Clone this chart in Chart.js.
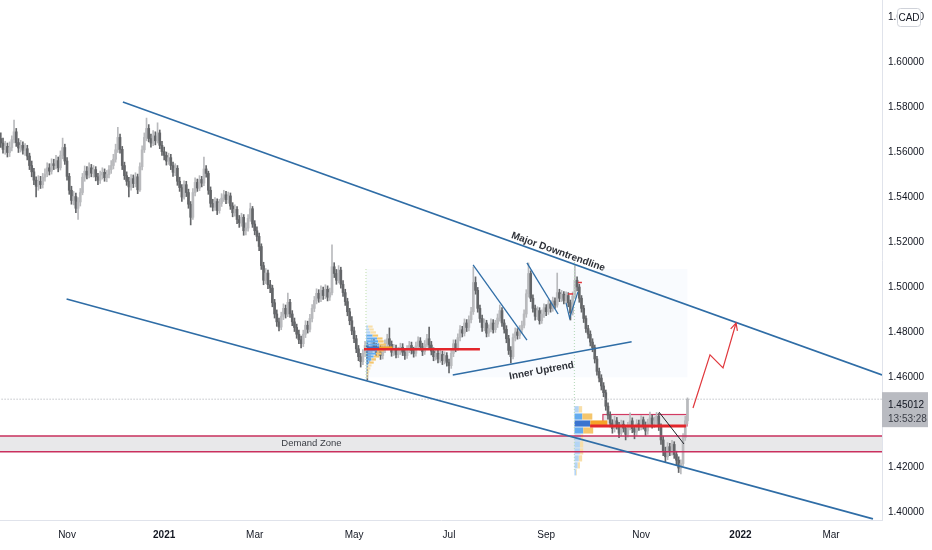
<!DOCTYPE html>
<html>
<head>
<meta charset="utf-8">
<script src="https://cdn.jsdelivr.net/npm/chart.js@4.4.1/dist/chart.umd.min.js"></script>
<style>
  html, body { margin: 0; padding: 0; background: #fff; }
</style>
</head>
<body>
<canvas id="price-chart" width="932" height="550"></canvas>
<script>
// daily EUR/CAD candles, bar index 0 = mid Sep 2020
const opens = [
  1.5660,1.5640,1.5612,1.5625,1.5598,1.5620,1.5655,1.5690,1.5642,1.5618,
  1.5630,1.5608,1.5615,1.5582,1.5540,1.5512,1.5475,1.5448,1.5470,1.5455,
  1.5488,1.5502,1.5530,1.5515,1.5548,1.5540,1.5562,1.5530,1.5585,1.5620,
  1.5560,1.5492,1.5430,1.5385,1.5402,1.5350,1.5378,1.5420,1.5488,1.5515,
  1.5498,1.5530,1.5506,1.5522,1.5490,1.5475,1.5498,1.5510,1.5486,1.5500,
  1.5522,1.5540,1.5568,1.5610,1.5665,1.5612,1.5540,1.5495,1.5470,1.5445,
  1.5482,1.5460,1.5490,1.5432,1.5535,1.5610,1.5665,1.5705,1.5660,1.5640,
  1.5672,1.5650,1.5685,1.5630,1.5602,1.5585,1.5560,1.5575,1.5540,1.5510,
  1.5528,1.5470,1.5442,1.5400,1.5455,1.5420,1.5368,1.5310,1.5420,1.5465,
  1.5440,1.5478,1.5462,1.5525,1.5505,1.5430,1.5372,1.5355,1.5380,1.5340,
  1.5372,1.5395,1.5410,1.5388,1.5405,1.5360,1.5330,1.5345,1.5300,1.5285,
  1.5310,1.5250,1.5262,1.5305,1.5348,1.5280,1.5250,1.5225,1.5180,1.5095,
  1.5030,1.5062,1.5010,1.4995,1.4930,1.4880,1.4845,1.4822,1.4870,1.4905,
  1.4880,1.4932,1.4880,1.4845,1.4820,1.4790,1.4765,1.4748,1.4790,1.4830,
  1.4812,1.4860,1.4905,1.4940,1.4972,1.4950,1.4985,1.4962,1.4990,1.4955,
  1.4975,1.5090,1.5060,1.5030,1.5075,1.5012,1.4975,1.4935,1.4890,1.4850,
  1.4805,1.4770,1.4725,1.4690,1.4668,1.4705,1.4740,1.4680,1.4718,1.4752,
  1.4735,1.4708,1.4730,1.4695,1.4722,1.4748,1.4770,1.4745,1.4710,1.4728,
  1.4700,1.4715,1.4732,1.4710,1.4695,1.4722,1.4740,1.4718,1.4705,1.4738,
  1.4760,1.4735,1.4712,1.4745,1.4770,1.4742,1.4715,1.4690,1.4705,1.4680,
  1.4700,1.4672,1.4695,1.4665,1.4650,1.4705,1.4748,1.4730,1.4775,1.4810,
  1.4795,1.4840,1.4820,1.4855,1.4890,1.5020,1.4985,1.4905,1.4860,1.4820,
  1.4840,1.4795,1.4815,1.4840,1.4810,1.4835,1.4862,1.4895,1.4840,1.4812,
  1.4770,1.4718,1.4690,1.4775,1.4800,1.4785,1.4810,1.4830,1.4880,1.4970,
  1.5060,1.4950,1.4905,1.4870,1.4895,1.4850,1.4880,1.4908,1.4890,1.4925,
  1.4905,1.4938,1.4920,1.4975,1.4950,1.4968,1.4940,1.4962,1.4930,1.4885,
  1.4960,1.5030,1.5000,1.4950,1.4905,1.4860,1.4815,1.4790,1.4755,1.4730,
  1.4680,1.4625,1.4595,1.4560,1.4530,1.4470,1.4430,1.4395,1.4370,1.4405,
  1.4385,1.4350,1.4390,1.4372,1.4345,1.4380,1.4405,1.4370,1.4355,1.4392,
  1.4380,1.4410,1.4385,1.4360,1.4395,1.4418,1.4390,1.4405,1.4425,1.4380,
  1.4320,1.4270,1.4245,1.4290,1.4268,1.4300,1.4255,1.4230,1.4195,1.4215,
  1.4330,1.4405
];
const closes = [
  1.5640,1.5612,1.5625,1.5598,1.5620,1.5655,1.5690,1.5642,1.5618,1.5630,
  1.5608,1.5615,1.5582,1.5540,1.5512,1.5475,1.5448,1.5470,1.5455,1.5488,
  1.5502,1.5530,1.5515,1.5548,1.5540,1.5562,1.5530,1.5585,1.5620,1.5560,
  1.5492,1.5430,1.5385,1.5402,1.5350,1.5378,1.5420,1.5488,1.5515,1.5498,
  1.5530,1.5506,1.5522,1.5490,1.5475,1.5498,1.5510,1.5486,1.5500,1.5522,
  1.5540,1.5568,1.5610,1.5665,1.5612,1.5540,1.5495,1.5470,1.5445,1.5482,
  1.5460,1.5490,1.5432,1.5535,1.5610,1.5665,1.5705,1.5660,1.5640,1.5672,
  1.5650,1.5685,1.5630,1.5602,1.5585,1.5560,1.5575,1.5540,1.5510,1.5528,
  1.5470,1.5442,1.5400,1.5455,1.5420,1.5368,1.5310,1.5420,1.5465,1.5440,
  1.5478,1.5462,1.5525,1.5505,1.5430,1.5372,1.5355,1.5380,1.5340,1.5372,
  1.5395,1.5410,1.5388,1.5405,1.5360,1.5330,1.5345,1.5300,1.5285,1.5310,
  1.5250,1.5262,1.5305,1.5348,1.5280,1.5250,1.5225,1.5180,1.5095,1.5030,
  1.5062,1.5010,1.4995,1.4930,1.4880,1.4845,1.4822,1.4870,1.4905,1.4880,
  1.4932,1.4880,1.4845,1.4820,1.4790,1.4765,1.4748,1.4790,1.4830,1.4812,
  1.4860,1.4905,1.4940,1.4972,1.4950,1.4985,1.4962,1.4990,1.4955,1.4975,
  1.5090,1.5060,1.5030,1.5075,1.5012,1.4975,1.4935,1.4890,1.4850,1.4805,
  1.4770,1.4725,1.4690,1.4668,1.4705,1.4740,1.4680,1.4718,1.4752,1.4735,
  1.4708,1.4730,1.4695,1.4722,1.4748,1.4770,1.4745,1.4710,1.4728,1.4700,
  1.4715,1.4732,1.4710,1.4695,1.4722,1.4740,1.4718,1.4705,1.4738,1.4760,
  1.4735,1.4712,1.4745,1.4770,1.4742,1.4715,1.4690,1.4705,1.4680,1.4700,
  1.4672,1.4695,1.4665,1.4650,1.4705,1.4748,1.4730,1.4775,1.4810,1.4795,
  1.4840,1.4820,1.4855,1.4890,1.5020,1.4985,1.4905,1.4860,1.4820,1.4840,
  1.4795,1.4815,1.4840,1.4810,1.4835,1.4862,1.4895,1.4840,1.4812,1.4770,
  1.4718,1.4690,1.4775,1.4800,1.4785,1.4810,1.4830,1.4880,1.4970,1.5060,
  1.4950,1.4905,1.4870,1.4895,1.4850,1.4880,1.4908,1.4890,1.4925,1.4905,
  1.4938,1.4920,1.4975,1.4950,1.4968,1.4940,1.4962,1.4930,1.4885,1.4960,
  1.5030,1.5000,1.4950,1.4905,1.4860,1.4815,1.4790,1.4755,1.4730,1.4680,
  1.4625,1.4595,1.4560,1.4530,1.4470,1.4430,1.4395,1.4370,1.4405,1.4385,
  1.4350,1.4390,1.4372,1.4345,1.4380,1.4405,1.4370,1.4355,1.4392,1.4380,
  1.4410,1.4385,1.4360,1.4395,1.4418,1.4390,1.4405,1.4425,1.4380,1.4320,
  1.4270,1.4245,1.4290,1.4268,1.4300,1.4255,1.4230,1.4195,1.4215,1.4330,
  1.4405,1.4501
];
const highs = [
  1.5685,1.5662,1.5648,1.5640,1.5645,1.5672,1.5742,1.5705,1.5660,1.5652,
  1.5645,1.5638,1.5630,1.5595,1.5560,1.5528,1.5490,1.5495,1.5492,1.5505,
  1.5525,1.5552,1.5548,1.5570,1.5568,1.5585,1.5578,1.5605,1.5662,1.5635,
  1.5575,1.5505,1.5448,1.5425,1.5418,1.5398,1.5438,1.5505,1.5538,1.5535,
  1.5552,1.5545,1.5540,1.5535,1.5505,1.5515,1.5530,1.5525,1.5518,1.5540,
  1.5562,1.5590,1.5635,1.5710,1.5680,1.5625,1.5555,1.5512,1.5488,1.5500,
  1.5498,1.5508,1.5502,1.5552,1.5628,1.5685,1.5751,1.5722,1.5680,1.5695,
  1.5690,1.5730,1.5698,1.5648,1.5622,1.5600,1.5595,1.5590,1.5555,1.5548,
  1.5540,1.5488,1.5455,1.5472,1.5470,1.5435,1.5380,1.5438,1.5485,1.5480,
  1.5495,1.5492,1.5578,1.5540,1.5515,1.5445,1.5390,1.5398,1.5392,1.5390,
  1.5415,1.5430,1.5425,1.5422,1.5418,1.5375,1.5365,1.5358,1.5318,1.5328,
  1.5322,1.5285,1.5322,1.5373,1.5358,1.5295,1.5268,1.5240,1.5192,1.5110,
  1.5082,1.5075,1.5030,1.5008,1.4945,1.4898,1.4862,1.4888,1.4925,1.4920,
  1.4973,1.4945,1.4895,1.4862,1.4835,1.4808,1.4782,1.4808,1.4850,1.4848,
  1.4878,1.4922,1.4958,1.4992,1.4988,1.5005,1.5000,1.5010,1.5005,1.4995,
  1.5187,1.5108,1.5078,1.5095,1.5088,1.5028,1.4990,1.4950,1.4905,1.4868,
  1.4822,1.4785,1.4740,1.4705,1.4722,1.4758,1.4752,1.4735,1.4770,1.4768,
  1.4750,1.4748,1.4742,1.4740,1.4765,1.4790,1.4818,1.4760,1.4745,1.4742,
  1.4732,1.4750,1.4748,1.4725,1.4740,1.4758,1.4755,1.4732,1.4755,1.4778,
  1.4775,1.4750,1.4762,1.4790,1.4822,1.4758,1.4730,1.4722,1.4718,1.4718,
  1.4715,1.4712,1.4708,1.4680,1.4722,1.4765,1.4765,1.4792,1.4828,1.4825,
  1.4858,1.4855,1.4872,1.4910,1.5089,1.5045,1.4998,1.4920,1.4875,1.4858,
  1.4852,1.4832,1.4858,1.4855,1.4852,1.4880,1.4920,1.4908,1.4855,1.4828,
  1.4785,1.4735,1.4792,1.4818,1.4815,1.4828,1.4848,1.4898,1.4988,1.5107,
  1.5072,1.4965,1.4920,1.4912,1.4908,1.4898,1.4925,1.4922,1.4942,1.4938,
  1.4955,1.4952,1.5062,1.4990,1.4985,1.4980,1.4978,1.4975,1.4942,1.4978,
  1.5098,1.5045,1.5012,1.4962,1.4918,1.4872,1.4830,1.4805,1.4770,1.4742,
  1.4692,1.4640,1.4610,1.4575,1.4542,1.4485,1.4445,1.4410,1.4425,1.4420,
  1.4398,1.4408,1.4405,1.4385,1.4398,1.4440,1.4418,1.4385,1.4410,1.4408,
  1.4428,1.4422,1.4400,1.4412,1.4444,1.4430,1.4422,1.4442,1.4438,1.4392,
  1.4335,1.4288,1.4308,1.4305,1.4318,1.4312,1.4270,1.4245,1.4232,1.4348,
  1.4425,1.4507
];
const lows = [
  1.5620,1.5595,1.5590,1.5578,1.5580,1.5605,1.5640,1.5625,1.5598,1.5600,
  1.5590,1.5585,1.5565,1.5522,1.5490,1.5455,1.5400,1.5430,1.5438,1.5440,
  1.5470,1.5490,1.5498,1.5502,1.5522,1.5525,1.5512,1.5520,1.5570,1.5545,
  1.5475,1.5412,1.5368,1.5365,1.5330,1.5300,1.5360,1.5410,1.5470,1.5480,
  1.5485,1.5490,1.5488,1.5472,1.5455,1.5460,1.5480,1.5470,1.5468,1.5485,
  1.5505,1.5525,1.5555,1.5598,1.5595,1.5522,1.5478,1.5452,1.5400,1.5430,
  1.5442,1.5445,1.5415,1.5425,1.5520,1.5598,1.5650,1.5645,1.5622,1.5628,
  1.5632,1.5640,1.5615,1.5585,1.5565,1.5542,1.5545,1.5522,1.5492,1.5495,
  1.5452,1.5425,1.5380,1.5390,1.5402,1.5350,1.5276,1.5300,1.5405,1.5425,
  1.5428,1.5445,1.5450,1.5488,1.5412,1.5355,1.5338,1.5340,1.5322,1.5328,
  1.5358,1.5380,1.5370,1.5372,1.5345,1.5312,1.5315,1.5282,1.5265,1.5270,
  1.5230,1.5232,1.5248,1.5292,1.5265,1.5232,1.5205,1.5162,1.5078,1.5010,
  1.5015,1.4992,1.4975,1.4912,1.4862,1.4825,1.4805,1.4810,1.4855,1.4862,
  1.4868,1.4865,1.4828,1.4802,1.4772,1.4748,1.4729,1.4735,1.4775,1.4795,
  1.4800,1.4845,1.4890,1.4925,1.4932,1.4935,1.4945,1.4948,1.4938,1.4940,
  1.4965,1.5042,1.5012,1.5018,1.4995,1.4958,1.4918,1.4872,1.4832,1.4788,
  1.4752,1.4708,1.4672,1.4644,1.4655,1.4690,1.4587,1.4665,1.4702,1.4718,
  1.4690,1.4692,1.4678,1.4680,1.4708,1.4732,1.4728,1.4692,1.4695,1.4685,
  1.4686,1.4700,1.4695,1.4678,1.4682,1.4708,1.4702,1.4688,1.4692,1.4725,
  1.4720,1.4695,1.4700,1.4732,1.4725,1.4698,1.4672,1.4675,1.4662,1.4665,
  1.4655,1.4658,1.4648,1.4618,1.4638,1.4690,1.4712,1.4718,1.4760,1.4778,
  1.4782,1.4802,1.4805,1.4840,1.4878,1.4968,1.4888,1.4842,1.4802,1.4805,
  1.4778,1.4780,1.4800,1.4795,1.4798,1.4820,1.4848,1.4825,1.4795,1.4752,
  1.4700,1.4662,1.4680,1.4760,1.4768,1.4770,1.4795,1.4818,1.4865,1.4955,
  1.4935,1.4888,1.4852,1.4855,1.4835,1.4838,1.4865,1.4872,1.4878,1.4888,
  1.4892,1.4905,1.4910,1.4935,1.4935,1.4925,1.4928,1.4912,1.4853,1.4875,
  1.4948,1.4982,1.4932,1.4888,1.4842,1.4798,1.4772,1.4738,1.4712,1.4662,
  1.4608,1.4578,1.4542,1.4512,1.4452,1.4412,1.4378,1.4350,1.4355,1.4368,
  1.4330,1.4338,1.4355,1.4320,1.4332,1.4365,1.4352,1.4325,1.4340,1.4362,
  1.4365,1.4368,1.4340,1.4345,1.4380,1.4372,1.4375,1.4390,1.4362,1.4300,
  1.4250,1.4222,1.4232,1.4250,1.4252,1.4238,1.4210,1.4175,1.4169,1.4205,
  1.4318,1.4392
];

// axis ticks: bar index of month starts and labels, price ticks
const monthIdx = [30, 74, 115, 160, 203, 247, 290, 335, 376];
const monthLabels = ['Nov', '2021', 'Mar', 'May', 'Jul', 'Sep', 'Nov', '2022', 'Mar'];
const priceTicks = [1.40, 1.42, 1.44, 1.46, 1.48, 1.50, 1.52, 1.54, 1.56, 1.58, 1.60, 1.62];
const lastPrice = 1.45012;
const countdown = '13:53:28';

// drawings: [barIndex, price] points
const majorDowntrend = [[55.3, 1.5822], [399.1, 1.4609]];
const lowerChannel = [[29.8, 1.4947], [395.0, 1.3969]];
const innerUptrend = [[204.7, 1.4609], [285.7, 1.4757]];
const swingLine1 = [[213.9, 1.5098], [238.3, 1.4764]];
const swingLine2 = [[238.3, 1.5107], [252.4, 1.4880]];
const swingV = [[256.0, 1.4929], [257.6, 1.4862], [261.4, 1.4978]];
const breakLine = [[298.1, 1.4444], [309.4, 1.4302]];
const projection = [[313.5, 1.4462], [321.2, 1.4698], [327.1, 1.4640], [333.0, 1.4840]];
const redTick1 = [[256.9, 1.4969], [259.2, 1.4969]];
const redTick2 = [[261.4, 1.5020], [263.2, 1.5020]];
const pocLine1 = [[164.5, 1.4723], [217.0, 1.4723]];
const pocLine2 = [[266.9, 1.4382], [310.3, 1.4382]];
const demandZone = [1.4267, 1.4338];
const rangeBox = { from: 272.7, to: 310.8, low: 1.4382, high: 1.4433 };

// fixed range volume profiles
const vp1Start = 165.4;
const vp1End = 311;
const vp1Prices = [1.4824, 1.4811, 1.4798, 1.4784, 1.4771, 1.4758, 1.4744, 1.4731, 1.4718,
  1.4704, 1.4691, 1.4678, 1.4664, 1.4651, 1.4638, 1.4624, 1.4611, 1.4598];
const vp1Up = [1, 1.5, 2, 3, 5, 5.5, 6, 6, 5, 4.5, 3.5, 2.5, 1.5, 1, 0.5, 0.5, 0.3, 0.3];
const vp1Down = [2, 2, 2.5, 2.5, 2.5, 2.5, 3, 6, 3, 2.5, 2.5, 2, 2, 1.5, 1.5, 1, 0.8, 0.5];
const vp1Poc = 1.4731;
const vp1Va = [1.4664, 1.4784];
const vp1Top = 1.5080;

const vp2Start = 259.8;
const vp2Prices = [1.4456, 1.4424, 1.4393, 1.4362, 1.4331, 1.4300, 1.4269, 1.4238, 1.4207, 1.4176];
const vp2Up = [2, 3.6, 7.2, 4, 3, 2.5, 2.5, 2, 1.5, 0.8];
const vp2Down = [1.5, 4.5, 7.7, 4.5, 1, 1.5, 1.5, 1.5, 1, 0.3];
const vp2Poc = 1.4393;
const vp2Va = [1.4362, 1.4424];
const vp2Top = 1.5111;

const UP = '#b9babd';
const DOWN = '#646669';
const TREND = '#2f6da6';
const FONT = "'Liberation Sans', Arial, sans-serif";

const pts = (arr) => arr.map(([x, y]) => ({ x, y }));

const line = (data, color, width, extra) => Object.assign({
  type: 'line',
  data: pts(data),
  borderColor: color,
  borderWidth: width,
  pointRadius: 0,
  tension: 0,
  fill: false,
}, extra || {});

const candleColors = closes.map((c, i) => (c >= opens[i] ? UP : DOWN));

const overlayPlugin = {
  id: 'overlay',
  beforeDatasetsDraw(chart) {
    const { ctx, chartArea, scales: { x, y } } = chart;
    ctx.save();
    // volume profile range background
    ctx.fillStyle = 'rgba(228, 236, 250, 0.22)';
    ctx.fillRect(x.getPixelForValue(vp1Start), y.getPixelForValue(vp1Top),
      x.getPixelForValue(vp1End) - x.getPixelForValue(vp1Start),
      y.getPixelForValue(vp1Prices[vp1Prices.length - 1]) - y.getPixelForValue(vp1Top));
    // demand zone
    ctx.fillStyle = 'rgba(200, 200, 204, 0.42)';
    const zt = y.getPixelForValue(demandZone[1]);
    const zb = y.getPixelForValue(demandZone[0]);
    ctx.fillRect(chartArea.left, zt, chartArea.right - chartArea.left, zb - zt);
    // november range box
    const bl = x.getPixelForValue(rangeBox.from);
    const br = x.getPixelForValue(rangeBox.to);
    const bt = y.getPixelForValue(rangeBox.high);
    const bb = y.getPixelForValue(rangeBox.low);
    ctx.fillRect(bl, bt, br - bl, bb - bt);
    ctx.strokeStyle = '#d23a62';
    ctx.lineWidth = 1.2;
    ctx.strokeRect(bl, bt, br - bl, bb - bt);
    ctx.restore();
  },
  afterDatasetDraw(chart, args) {
    if (args.meta.label !== 'bodies') return;
    const { ctx, scales: { x, y } } = chart;
    const drawProfile = (start, prices, up, down, poc, va) => {
      const x0 = x.getPixelForValue(start);
      prices.forEach((p, i) => {
        const next = prices[i + 1] !== undefined ? prices[i + 1] : p - (prices[i - 1] - p);
        const h = Math.abs(y.getPixelForValue(next) - y.getPixelForValue(p));
        const yc = y.getPixelForValue(p);
        const inVa = p >= va[0] - 1e-6 && p <= va[1] + 1e-6;
        const isPoc = Math.abs(p - poc) < 1e-6;
        const wu = x.getPixelForValue(start + up[i]) - x0;
        const wd = x.getPixelForValue(start + up[i] + down[i]) - x0 - wu;
        ctx.fillStyle = isPoc ? '#3a74cf' : inVa ? '#63abef' : '#b3d4f4';
        ctx.fillRect(x0, yc - h / 2 + 0.4, wu, h - 0.8);
        ctx.fillStyle = isPoc ? '#f6a228' : inVa ? '#f5c66c' : '#f8dfa9';
        ctx.fillRect(x0 + wu, yc - h / 2 + 0.4, wd, h - 0.8);
      });
    };
    ctx.save();
    drawProfile(vp1Start, vp1Prices, vp1Up, vp1Down, vp1Poc, vp1Va);
    drawProfile(vp2Start, vp2Prices, vp2Up, vp2Down, vp2Poc, vp2Va);
    ctx.restore();
  },
  afterDatasetsDraw(chart) {
    const { ctx, scales: { x, y } } = chart;
    const P = (pt) => [x.getPixelForValue(pt[0]), y.getPixelForValue(pt[1])];
    ctx.save();
    // arrow head on projection
    const [ex, ey] = P(projection[projection.length - 1]);
    const [sx, sy] = P(projection[projection.length - 2]);
    const ang = Math.atan2(ey - sy, ex - sx);
    ctx.strokeStyle = '#e0383d';
    ctx.lineWidth = 1.2;
    ctx.beginPath();
    ctx.moveTo(ex - 8 * Math.cos(ang - 0.45), ey - 8 * Math.sin(ang - 0.45));
    ctx.lineTo(ex, ey);
    ctx.lineTo(ex - 8 * Math.cos(ang + 0.45), ey - 8 * Math.sin(ang + 0.45));
    ctx.stroke();

    ctx.fillStyle = '#2e3138';
    ctx.textAlign = 'center';
    ctx.textBaseline = 'middle';
    const rotated = (text, at, ln, font) => {
      const [a1x, a1y] = P(ln[0]);
      const [a2x, a2y] = P(ln[1]);
      const [tx, ty] = P(at);
      ctx.save();
      ctx.translate(tx, ty);
      ctx.rotate(Math.atan2(a2y - a1y, a2x - a1x));
      ctx.font = font;
      ctx.fillText(text, 0, 0);
      ctx.restore();
    };
    rotated('Major Downtrendline', [252.4, 1.5156], majorDowntrend, `bold 10px ${FONT}`);
    rotated('Inner Uptrend', [244.9, 1.4627], innerUptrend, `bold 10px ${FONT}`);
    ctx.font = `9.5px ${FONT}`;
    ctx.fillStyle = '#3a3d44';
    const [dx, dy] = P([140.7, (demandZone[0] + demandZone[1]) / 2]);
    ctx.fillText('Demand Zone', dx, dy);
    ctx.restore();
  },
  afterDraw(chart) {
    const { ctx, chartArea, scales: { y } } = chart;
    ctx.save();
    // last price label
    const yp = y.getPixelForValue(lastPrice);
    ctx.fillStyle = '#b9bbc1';
    ctx.fillRect(chartArea.right, yp - 7, 46, 35);
    ctx.fillStyle = '#131722';
    ctx.font = `10px ${FONT}`;
    ctx.textAlign = 'left';
    ctx.textBaseline = 'middle';
    ctx.fillText(lastPrice.toFixed(5), chartArea.right + 6, yp + 6);
    ctx.fillStyle = '#3d4049';
    ctx.fillText(countdown, chartArea.right + 6, yp + 20);
    // currency badge
    const bx = chartArea.right + 15;
    const by = 8;
    ctx.fillStyle = '#ffffff';
    ctx.strokeStyle = '#cfd2d9';
    ctx.lineWidth = 1;
    ctx.beginPath();
    ctx.roundRect(bx + 0.5, by + 0.5, 23, 18, 3);
    ctx.fill();
    ctx.stroke();
    ctx.fillStyle = '#131722';
    ctx.textAlign = 'center';
    ctx.fillText('CAD', bx + 12, by + 10);
    ctx.restore();
  },
};

const datasets = [
  line(projection, '#e0383d', 1.2),
  line(breakLine, '#1f2228', 1),
  line(redTick1, '#e0383d', 1.5),
  line(redTick2, '#e0383d', 1.5),
  line(swingV, TREND, 1.2),
  line(swingLine1, TREND, 1.3),
  line(swingLine2, TREND, 1.3),
  line(innerUptrend, TREND, 1.5),
  line(majorDowntrend, TREND, 1.6),
  line(lowerChannel, TREND, 1.6),
  line(pocLine1, '#e3262c', 2.5),
  line(pocLine2, '#e3262c', 3),
  line([[-1, demandZone[1]], [400, demandZone[1]]], '#c9305e', 1.5),
  line([[-1, demandZone[0]], [400, demandZone[0]]], '#c9305e', 1.5),
  line([[-1, lastPrice], [400, lastPrice]], '#a3a6ae', 1, { borderDash: [1, 2] }),
  line([[vp1Start, vp1Top], [vp1Start, 1.4590]], '#c9e3b8', 1.2, { borderDash: [1, 2] }),
  line([[vp2Start, vp2Top], [vp2Start, 1.4178]], '#bcdcc0', 1.2, { borderDash: [1, 2] }),
  {
    type: 'bar',
    label: 'bodies',
    data: closes.map((c, i) => ({ x: i, y: [opens[i], c] })),
    backgroundColor: candleColors,
    barThickness: 2,
    minBarLength: 1,
    grouped: false,
  },
  {
    type: 'bar',
    label: 'wicks',
    data: closes.map((c, i) => ({
      x: i,
      y: [Math.min(lows[i], opens[i], c), Math.max(highs[i], opens[i], c)],
    })),
    backgroundColor: candleColors,
    barThickness: 1,
    grouped: false,
  },
];

const renderChart = () => {
  const chartEl = document.getElementById('price-chart');
  Chart.defaults.font.family = FONT;

  return new Chart(chartEl, {
    type: 'bar',
    data: { datasets },
    options: {
      responsive: false,
      animation: false,
      layout: { padding: 0 },
      plugins: {
        legend: { display: false },
        tooltip: { enabled: false },
      },
      scales: {
        x: {
          type: 'linear',
          min: -0.36,
          max: 399.1,
          offset: false,
          grid: { display: false, drawTicks: false },
          border: { display: true, color: '#e0e3eb' },
          afterBuildTicks: (scale) => {
            scale.ticks = monthIdx.map((value) => ({ value }));
          },
          afterFit: (scale) => {
            scale.height = 30;
            scale.paddingLeft = 0;
            scale.paddingRight = 0;
          },
          ticks: {
            autoSkip: false,
            maxRotation: 0,
            padding: 9,
            color: '#131722',
            font: (ctx) => ({
              size: 10,
              weight: /^\d{4}$/.test(monthLabels[ctx.index]) ? 'bold' : 'normal',
            }),
            callback: (value, index) => monthLabels[index],
          },
        },
        y: {
          position: 'right',
          min: 1.3964,
          max: 1.6276,
          grid: { display: false, drawTicks: false },
          border: { display: true, color: '#e0e3eb' },
          afterBuildTicks: (scale) => {
            scale.ticks = priceTicks.map((value) => ({ value }));
          },
          afterFit: (scale) => {
            scale.width = 50;
            scale.paddingTop = 0;
            scale.paddingBottom = 0;
          },
          ticks: {
            padding: 6,
            color: '#131722',
            font: { size: 10 },
            callback: (value) => Number(value).toFixed(5),
          },
        },
      },
    },
    plugins: [overlayPlugin],
  });
};

if (document.readyState === 'complete') {
  renderChart();
} else {
  document.addEventListener('DOMContentLoaded', () => {
    renderChart();
  });
}
</script>
</body>
</html>
